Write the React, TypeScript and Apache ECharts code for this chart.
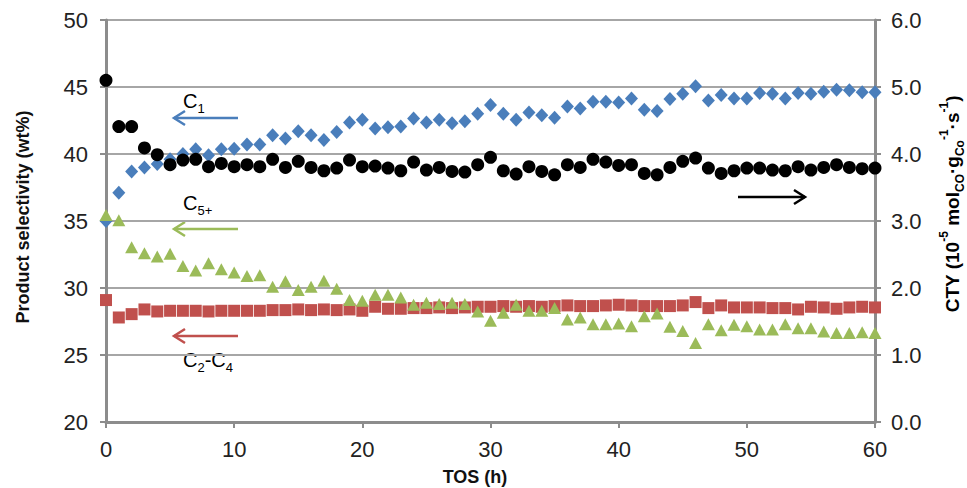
import React, { useEffect, useRef } from "react";
import * as echarts from "echarts";

const tos = [0,1,2,3,4,5,6,7,8,9,10,11,12,13,14,15,16,17,18,19,20,21,22,23,24,25,26,27,28,29,30,31,32,33,34,35,36,37,38,39,40,41,42,43,44,45,46,47,48,49,50,51,52,53,54,55,56,57,58,59,60];

const c1 = [35.0,37.1,38.7,39.0,39.25,39.6,40.0,40.35,39.9,40.35,40.4,40.7,40.7,41.4,41.15,41.7,41.4,41.05,41.65,42.35,42.55,41.9,42.0,42.05,42.65,42.35,42.55,42.3,42.45,43.0,43.65,43.0,42.55,43.1,42.9,42.7,43.55,43.4,43.9,43.9,43.85,44.15,43.3,43.2,44.1,44.5,45.05,44.0,44.4,44.15,44.15,44.55,44.5,44.15,44.55,44.5,44.65,44.8,44.75,44.6,44.6];

const c2c4 = [29.1,27.8,28.05,28.4,28.25,28.3,28.3,28.3,28.25,28.3,28.3,28.3,28.3,28.35,28.35,28.4,28.35,28.4,28.35,28.4,28.3,28.6,28.45,28.45,28.5,28.5,28.55,28.5,28.55,28.6,28.6,28.65,28.6,28.65,28.6,28.65,28.7,28.65,28.65,28.7,28.75,28.7,28.65,28.65,28.65,28.7,28.95,28.5,28.7,28.55,28.55,28.55,28.5,28.5,28.4,28.6,28.55,28.45,28.55,28.6,28.55];

const c5p = [35.45,35.05,33.05,32.6,32.35,32.55,31.65,31.3,31.85,31.4,31.15,30.9,30.95,30.1,30.5,29.85,30.1,30.55,29.95,29.1,29.05,29.5,29.5,29.3,28.75,28.9,28.8,28.9,28.8,28.25,27.55,28.15,28.75,28.3,28.3,28.5,27.65,27.8,27.3,27.3,27.35,27.15,27.9,28.1,27.1,26.8,25.9,27.3,26.85,27.25,27.15,26.9,26.9,27.3,27.0,27.0,26.75,26.65,26.65,26.7,26.65];

const cty = [5.10,4.41,4.41,4.09,3.99,3.84,3.91,3.92,3.81,3.86,3.81,3.84,3.81,3.92,3.80,3.89,3.80,3.75,3.79,3.91,3.81,3.82,3.79,3.75,3.88,3.76,3.80,3.74,3.73,3.84,3.95,3.75,3.70,3.81,3.74,3.69,3.84,3.80,3.92,3.88,3.83,3.84,3.71,3.69,3.80,3.89,3.94,3.79,3.71,3.75,3.79,3.79,3.76,3.75,3.81,3.76,3.80,3.84,3.80,3.78,3.79];

const leftTicks = { min: 20, max: 50, interval: 5 };
const rightTicks = { min: 0, max: 6, interval: 1 };
const xTicks = { min: 0, max: 60, interval: 10 };

const BLUE = "#4A7EBB";
const RED = "#C0504D";
const GREEN = "#9BBB59";
const FONT = "'Liberation Sans', Arial, sans-serif";

const pair = (ys: number[]) => tos.map((t, i) => [t, ys[i]]);

function arrow(x1: number, x2: number, y: number, color: string, dir: "left" | "right") {
  const tip = x2;
  const back = dir === "left" ? tip + 11 : tip - 11;
  return [
    { type: "line", shape: { x1, y1: y, x2: tip, y2: y }, style: { stroke: color, lineWidth: 2.5 } },
    { type: "polyline", shape: { points: [[back, y - 7], [tip, y], [back, y + 7]] }, style: { stroke: color, lineWidth: 2.5, fill: null } },
  ];
}

export default function App() {
  const ref = useRef<HTMLDivElement>(null);
  useEffect(() => {
    if (!ref.current) return;
    const chart = echarts.init(ref.current, null, { renderer: "svg" });
    const labelStyle = { color: "#222", fontSize: 22, fontFamily: FONT };
    const annoRich = {
      m: { fontSize: 20, fontFamily: FONT, color: "#222", lineHeight: 28, verticalAlign: "middle" },
      s: { fontSize: 13, fontFamily: FONT, color: "#222", lineHeight: 14, verticalAlign: "bottom" },
    };
    const titleRich = {
      m: { fontSize: 19, fontWeight: "bold", fontFamily: FONT, color: "#111", lineHeight: 28, verticalAlign: "middle" },
      p: { fontSize: 12, fontWeight: "bold", fontFamily: FONT, color: "#111", lineHeight: 14, verticalAlign: "top" },
      b: { fontSize: 12, fontWeight: "bold", fontFamily: FONT, color: "#111", lineHeight: 14, verticalAlign: "bottom" },
    };
    const axisLine = { show: true, lineStyle: { color: "#8C8C8C", width: 3 } };
    const axisTick = { show: true, length: 6, lineStyle: { color: "#8C8C8C", width: 2 } };
    chart.setOption({
      animation: false,
      backgroundColor: "#fff",
      grid: { left: 106, right: 92, top: 20, bottom: 66, containLabel: false },
      xAxis: {
        type: "value",
        ...xTicks,
        axisLine,
        axisTick,
        axisLabel: { ...labelStyle, margin: 16 },
        splitLine: { show: false },
      },
      yAxis: [
        {
          type: "value",
          ...leftTicks,
          position: "left",
          axisLine,
          axisTick,
          axisLabel: { ...labelStyle, margin: 18 },
          splitLine: { show: true, lineStyle: { color: "#A6A6A6", width: 2 } },
        },
        {
          type: "value",
          ...rightTicks,
          position: "right",
          axisLine,
          axisTick,
          axisLabel: { ...labelStyle, margin: 16, formatter: (v: number) => v.toFixed(1) },
          splitLine: { show: false },
        },
      ],
      series: [
        { name: "C1", type: "scatter", yAxisIndex: 0, data: pair(c1), symbol: "diamond", symbolSize: [13, 14], itemStyle: { color: BLUE, opacity: 1 } },
        { name: "C2-C4", type: "scatter", yAxisIndex: 0, data: pair(c2c4), symbol: "rect", symbolSize: 12, itemStyle: { color: RED, opacity: 1 } },
        { name: "C5+", type: "scatter", yAxisIndex: 0, data: pair(c5p), symbol: "triangle", symbolSize: [13, 12], itemStyle: { color: GREEN, opacity: 1 } },
        { name: "CTY", type: "scatter", yAxisIndex: 1, data: pair(cty), symbol: "circle", symbolSize: 13, itemStyle: { color: "#000", opacity: 1 } },
      ],
      graphic: [
        ...arrow(238, 174, 118, BLUE, "left"),
        ...arrow(238, 174, 229, GREEN, "left"),
        ...arrow(238, 174, 336, RED, "left"),
        ...arrow(738, 805, 197, "#000", "right"),
        { type: "text", x: 183, y: 101, style: { text: "{m|C}{s|1}", rich: annoRich, verticalAlign: "middle" } },
        { type: "text", x: 183, y: 203, style: { text: "{m|C}{s|5+}", rich: annoRich, verticalAlign: "middle" } },
        { type: "text", x: 183, y: 360, style: { text: "{m|C}{s|2}{m|-C}{s|4}", rich: annoRich, verticalAlign: "middle" } },
        {
          type: "text", x: 23, y: 217, rotation: Math.PI / 2,
          style: { text: "Product selectivity (wt%)", fontSize: 18, fontWeight: "bold", fontFamily: FONT, fill: "#111", align: "center", verticalAlign: "middle" },
        },
        {
          type: "text", x: 952, y: 204, rotation: Math.PI / 2,
          style: { text: "{m|CTY (10}{p|-5}{m| mol}{b|CO}{m|·g}{b|Co}{p|-1}{m|·s}{p|-1}{m|)}", rich: titleRich, align: "center", verticalAlign: "middle" },
        },
        {
          type: "text", x: 475, y: 477,
          style: { text: "TOS (h)", fontSize: 18, fontWeight: "bold", fontFamily: FONT, fill: "#111", align: "center", verticalAlign: "middle" },
        },
      ],
    });
    return () => chart.dispose();
  }, []);
  return <div ref={ref} style={{ width: 967, height: 488, position: "absolute", left: 0, top: 0 }} />;
}
